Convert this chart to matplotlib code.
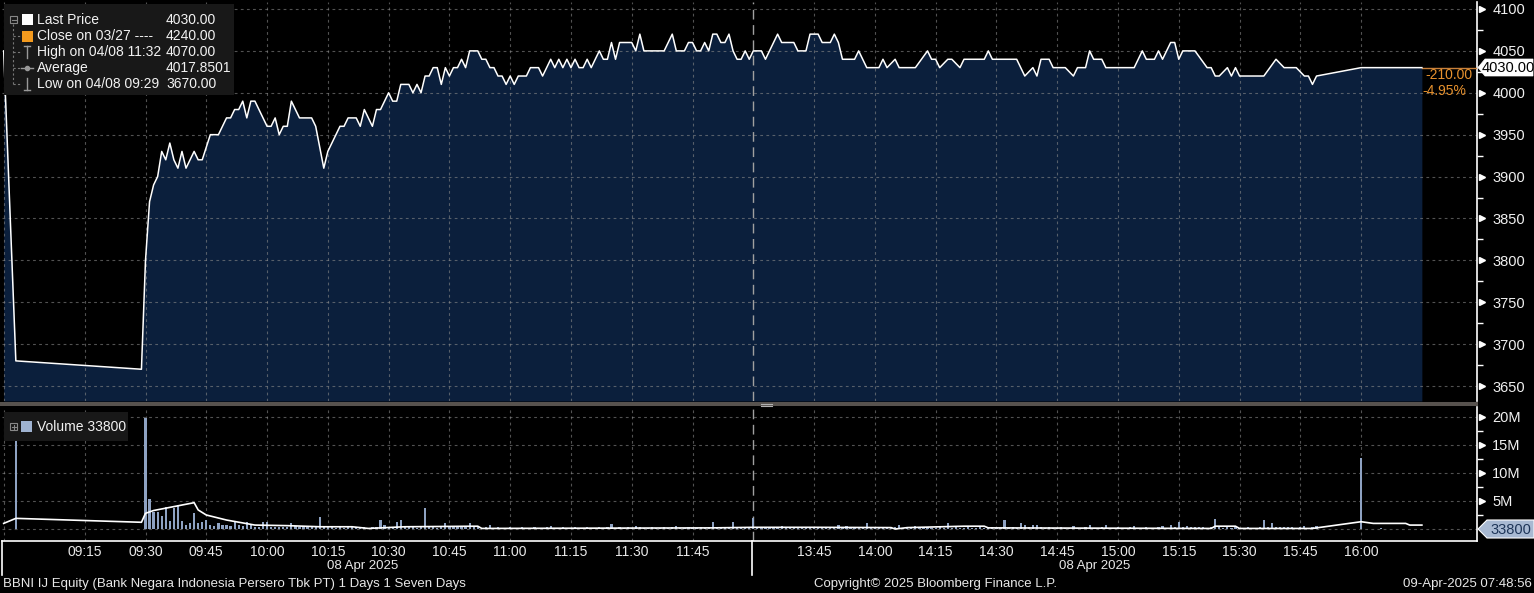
"""BBNI IJ intraday price + volume, Bloomberg-style dark chart."""

import matplotlib
matplotlib.use("Agg")
import matplotlib.pyplot as plt
import matplotlib.transforms as mtrans
from matplotlib.patches import Rectangle, Polygon
from matplotlib.lines import Line2D

plt.rcParams["font.family"] = ["Liberation Sans Narrow", "Liberation Sans", "DejaVu Sans"]

W, H = 1534, 593

# price vertices (clock time, price)
PRICE_TIMES = [
    "08:55", "08:58", "09:29", "09:30", "09:31", "09:32", "09:33", "09:34", "09:35", "09:36",
    "09:37", "09:38", "09:39", "09:40", "09:42", "09:43", "09:44", "09:46", "09:48", "09:50",
    "09:51", "09:52", "09:53", "09:54", "09:55", "09:56", "09:57", "10:00", "10:01", "10:02",
    "10:03", "10:04", "10:05", "10:06", "10:08", "10:11", "10:12", "10:14", "10:15", "10:17",
    "10:18", "10:19", "10:20", "10:22", "10:23", "10:24", "10:26", "10:27", "10:28", "10:30",
    "10:31", "10:32", "10:33", "10:35", "10:36", "10:37", "10:38", "10:39", "10:40", "10:41",
    "10:42", "10:43", "10:44", "10:45", "10:46", "10:47", "10:48", "10:49", "10:50", "10:52",
    "10:53", "10:54", "10:55", "10:56", "10:57", "10:58", "10:59", "11:00", "11:01", "11:02",
    "11:04", "11:05", "11:07", "11:08", "11:10", "11:11", "11:12", "11:13", "11:14", "11:15",
    "11:16", "11:17", "11:18", "11:19", "11:20", "11:22", "11:23", "11:24", "11:25", "11:26",
    "11:27", "11:30", "11:31", "11:32", "11:33", "11:38", "11:40", "11:41", "11:43", "11:44",
    "11:45", "11:46", "11:47", "11:48", "11:49", "11:50", "11:51", "11:52", "11:53", "11:54",
    "11:55", "11:56", "11:57", "11:58", "11:59", "12:00",
    "13:32", "13:33", "13:36", "13:37", "13:40", "13:41", "13:43", "13:44", "13:46", "13:47",
    "13:49", "13:50", "13:51", "13:52", "13:55", "13:56", "13:58", "14:01", "14:02", "14:03",
    "14:05", "14:06", "14:10", "14:13", "14:14", "14:15", "14:16", "14:18", "14:19", "14:21",
    "14:22", "14:27", "14:28", "14:29", "14:35", "14:37", "14:39", "14:40", "14:41", "14:43",
    "14:44", "14:47", "14:49", "14:50", "14:52", "14:53", "14:54", "14:56", "14:57", "15:04",
    "15:06", "15:07", "15:09", "15:10", "15:11", "15:13", "15:14", "15:15", "15:16", "15:19",
    "15:22", "15:23", "15:24", "15:25", "15:27", "15:28", "15:29", "15:30", "15:36", "15:39",
    "15:41", "15:44", "15:46", "15:47", "15:48", "15:49", "16:00", "16:15",
]
PRICE_VALUES = [
    4050, 3680, 3670, 3800, 3870, 3890, 3900, 3930, 3920, 3940,
    3920, 3910, 3930, 3910, 3930, 3920, 3920, 3950, 3950, 3970,
    3970, 3980, 3980, 3990, 3970, 3990, 3990, 3960, 3960, 3970,
    3950, 3960, 3960, 3990, 3970, 3970, 3960, 3910, 3930, 3950,
    3960, 3960, 3970, 3970, 3960, 3980, 3960, 3980, 3980, 4000,
    3990, 3990, 4010, 4010, 4000, 4010, 4000, 4020, 4020, 4030,
    4030, 4010, 4030, 4020, 4030, 4030, 4040, 4030, 4050, 4050,
    4040, 4040, 4030, 4030, 4020, 4020, 4010, 4020, 4010, 4020,
    4020, 4030, 4030, 4020, 4040, 4030, 4040, 4030, 4040, 4030,
    4040, 4030, 4030, 4040, 4030, 4050, 4040, 4040, 4060, 4040,
    4060, 4060, 4050, 4070, 4050, 4050, 4070, 4050, 4050, 4060,
    4060, 4050, 4050, 4060, 4050, 4070, 4070, 4060, 4060, 4070,
    4050, 4040, 4040, 4050, 4040, 4050,
    4050, 4040, 4070, 4060, 4060, 4050, 4050, 4070, 4070, 4060,
    4060, 4070, 4060, 4040, 4040, 4050, 4030, 4030, 4040, 4030,
    4040, 4030, 4030, 4050, 4040, 4040, 4030, 4040, 4040, 4030,
    4040, 4040, 4050, 4040, 4040, 4020, 4030, 4020, 4040, 4040,
    4030, 4030, 4020, 4030, 4030, 4050, 4040, 4040, 4030, 4030,
    4050, 4040, 4040, 4050, 4040, 4060, 4060, 4040, 4050, 4050,
    4030, 4030, 4020, 4020, 4030, 4020, 4030, 4020, 4020, 4040,
    4030, 4030, 4020, 4020, 4010, 4020, 4030, 4030,
]

# per-minute volume (millions), morning 09:30-12:00 and afternoon 13:31-15:49
VOL_AM_START = "09:30"
VOL_AM = [
    19.8, 5.4, 3.1, 3.1, 2.3, 3.9, 1.5, 3.7, 4.3, 1.5, 0.8, 1.0, 2.9, 1.0, 1.3, 1.6,
    0.7, 0.5, 1.0, 0.7, 0.7, 0.5, 1.5, 0.7, 0.5, 1.3, 0.9, 0.4, 0.4, 1.3, 1.3, 0.4,
    0.4, 0.4, 0.3, 0.4, 1.0, 0.5, 0.3, 0.3, 0.3, 0.3, 0.5, 2.2, 0.6, 0.3, 0.3, 0.2,
    0.3, 0.2, 0.3, 0.3, 0.4, 0.2, 0.3, 0.2, 0.4, 0.3, 1.6, 0.8, 0.3, 0.4, 1.2, 1.6,
    0.3, 0.5, 0.3, 0.2, 0.4, 3.7, 0.3, 0.4, 0.2, 0.3, 1.0, 0.4, 0.3, 0.5, 0.3, 0.4,
    1.1, 0.3, 0.4, 0.2, 0.3, 0.7, 0.2, 0.3, 0.2, 0.2, 0.3, 0.2, 0.2, 0.3, 0.2, 0.2,
    0.3, 0.2, 0.2, 0.3, 0.5, 0.2, 0.2, 0.3, 0.2, 0.2, 0.3, 0.2, 0.2, 0.3, 0.2, 0.2,
    0.3, 0.2, 0.3, 0.9, 0.2, 0.3, 0.2, 0.3, 0.2, 0.5, 0.3, 0.2, 0.2, 0.3, 0.2, 0.2,
    0.3, 0.2, 0.3, 0.5, 0.2, 0.2, 0.3, 0.2, 0.2, 0.3, 0.2, 0.3, 1.2, 0.2, 0.3, 0.2,
    0.3, 1.2, 0.2, 0.3, 0.2, 0.3, 2.0,
]
VOL_PM_START = "13:31"
VOL_PM = [
    0.3, 0.2, 0.3, 0.2, 0.2, 0.3, 0.5, 0.2, 0.2, 0.3, 0.2, 0.2, 0.3, 0.2, 0.2, 0.3,
    0.2, 0.2, 0.3, 0.2, 0.8, 0.2, 0.5, 0.2, 0.3, 0.2, 0.3, 1.0, 0.3, 0.2, 0.2, 0.3,
    0.2, 0.2, 0.3, 0.7, 0.2, 0.2, 0.3, 0.5, 0.2, 0.2, 0.3, 0.2, 0.2, 0.3, 0.2, 1.1,
    0.2, 0.3, 0.2, 0.2, 0.3, 0.2, 0.2, 0.3, 0.2, 0.2, 0.3, 0.2, 0.2, 1.6, 0.2, 0.3,
    0.2, 1.0, 0.7, 0.3, 0.7, 0.7, 0.3, 0.2, 0.3, 0.2, 0.2, 0.3, 0.2, 0.2, 0.5, 0.2,
    0.2, 0.3, 0.7, 0.2, 0.2, 0.3, 0.8, 0.2, 0.2, 0.3, 0.2, 0.2, 0.3, 0.5, 0.2, 0.2,
    0.3, 0.2, 0.2, 0.3, 0.5, 0.2, 0.7, 0.3, 1.3, 0.4, 0.5, 0.4, 0.3, 0.4, 0.3, 0.2,
    0.3, 1.8, 0.3, 0.2, 0.3, 0.2, 0.5, 0.2, 0.2, 0.3, 0.2, 0.2, 0.3, 1.6, 0.3, 1.1,
    0.3, 0.4, 0.3, 0.4, 0.3, 0.2, 0.3, 0.5, 0.2, 0.3, 0.5,
]
VOL_EXTRA_TIMES = ["08:58", "16:00", "16:05", "16:10", "16:15"]
VOL_EXTRA = [16.2, 12.6, 0.1, 0.05, 0.0338]

# volume average line (clock time, millions)
VOLAVG_TIMES = [
    "08:55", "08:58", "09:29", "09:30", "09:32", "09:37", "09:42", "09:43", "09:45", "09:50",
    "09:57", "10:05", "10:13", "10:21", "10:25", "10:34", "10:52", "10:53", "11:50", "12:00",
    "13:45", "14:04", "14:05", "14:08", "14:22", "14:27", "14:28", "15:23", "15:24", "15:29",
    "15:30", "15:48", "16:00", "16:03", "16:11", "16:12", "16:15",
]
VOLAVG_VALUES = [
    1.0, 1.9, 1.2, 2.8, 3.3, 4.0, 4.7, 3.4, 2.5, 1.6,
    0.7, 0.6, 0.4, 0.4, 0.1, 0.4, 0.5, 0.1, 0.2, 0.3,
    0.3, 0.25, 0.0, 0.25, 0.5, 0.5, 0.2, 0.1, 0.5, 0.5,
    0.1, 0.1, 1.3, 1.0, 1.0, 0.7, 0.7,
]

TICK_LABELS = ["09:15", "09:30", "09:45", "10:00", "10:15", "10:30", "10:45", "11:00",
               "11:15", "11:30", "11:45", "13:45", "14:00", "14:15", "14:30", "14:45",
               "15:00", "15:15", "15:30", "15:45", "16:00"]
PRICE_TICKS = [3650, 3700, 3750, 3800, 3850, 3900, 3950, 4000, 4050, 4100]
VOL_TICKS = [5, 10, 15, 20]
VOL_TICK_LABELS = ["5M", "10M", "15M", "20M"]


def tmin(s):
    # minutes from 09:00 on a session axis with the 12:00-13:30 break removed
    h, m = map(int, s.split(":"))
    t = h * 60 + m - 540
    return t - 90 if t >= 270 else t


def minutes_from(start, n):
    t0 = tmin(start)
    return [t0 + i for i in range(n)]


px_per_min = 4.052
x0 = 30 + (2 - 145.5) / px_per_min
x1 = 30 + (1477 - 145.5) / px_per_min

fig = plt.figure(figsize=(W / 100, H / 100), dpi=100, facecolor="black")
pix = mtrans.Affine2D().scale(1 / W, -1 / H).translate(0, 1) + fig.transFigure

ax_p = fig.add_axes([2 / W, 1 - 401 / H, 1475 / W, 399 / H], facecolor="black")
ax_v = fig.add_axes([2 / W, 1 - 541 / H, 1475 / W, 134 / H], facecolor="black")

grid_kw = dict(color="#8a8a8a", alpha=0.6, lw=0.8, ls=(0, (2.5, 3)), zorder=2)
tick_x = [tmin(t) for t in TICK_LABELS]

# ---- price panel
px_t = [tmin(t) for t in PRICE_TIMES]
p_lo, p_hi = 3650 - 15 / 0.8378, 4100 + 7 / 0.8378
ax_p.fill_between(px_t, PRICE_VALUES, p_lo, color="#0b1f3c", lw=0, zorder=1)
ax_p.plot(px_t, PRICE_VALUES, color="white", lw=1.1, zorder=4)
ax_p.plot([px_t[-1], x1], [PRICE_VALUES[-1]] * 2, color="#c8803a", lw=1, zorder=3)
ax_p.set_ylim(p_lo, p_hi)
for v in PRICE_TICKS:
    ax_p.axhline(v, **grid_kw)
ax_p.set_yticks(PRICE_TICKS)
ax_p.set_yticks([v + 25 for v in PRICE_TICKS[:-1]], minor=True)

# ---- volume panel
v_t = minutes_from(VOL_AM_START, len(VOL_AM)) + minutes_from(VOL_PM_START, len(VOL_PM)) \
    + [tmin(t) for t in VOL_EXTRA_TIMES]
v_val = VOL_AM + VOL_PM + VOL_EXTRA
ax_v.bar(v_t, v_val, width=0.55, color="#8ea2c2", lw=0, zorder=3)
ax_v.plot([tmin(t) for t in VOLAVG_TIMES], VOLAVG_VALUES, color="white", lw=1.2, zorder=4)
ax_v.set_ylim(-12 / 5.6, 122 / 5.6)
for v in [0] + VOL_TICKS:
    ax_v.axhline(v, **grid_kw)
ax_v.set_yticks(VOL_TICKS)
ax_v.set_yticklabels(VOL_TICK_LABELS)
ax_v.set_yticks([2.5, 7.5, 12.5, 17.5], minor=True)

for ax in (ax_p, ax_v):
    ax.set_xlim(x0, x1)
    for x in tick_x:
        ax.axvline(x, **grid_kw)
    ax.axvline(x0 + 0.4, **grid_kw)
    ax.axvline(180, color="#a0a0a0", lw=1, ls=(0, (7, 4)), zorder=2)
    ax.yaxis.tick_right()
    ax.tick_params(axis="y", which="major", length=0, pad=11, labelsize=10.5, labelcolor="#f0f0f0")
    ax.tick_params(axis="y", which="minor", length=4, width=1, color="white")
    for s in ("top", "left", "bottom"):
        ax.spines[s].set_visible(False)
    ax.spines["right"].set_color("white")
    ax.spines["right"].set_linewidth(1.2)
    tri = mtrans.blended_transform_factory(ax.transAxes, ax.transData)
    ticks = PRICE_TICKS if ax is ax_p else VOL_TICKS
    ax.plot([1.0035] * len(ticks), ticks, ls="none", marker=">", ms=5, color="white",
            transform=tri, clip_on=False)

ax_p.set_xticks([])
ax_v.spines["bottom"].set_visible(True)
ax_v.spines["bottom"].set_color("white")
ax_v.spines["bottom"].set_linewidth(1.2)
ax_v.set_xticks(tick_x)
ax_v.set_xticklabels(TICK_LABELS)
ax_v.tick_params(axis="x", length=0, pad=3, labelsize=10, labelcolor="#e8e8e8")

# panel separator and axis-band verticals
fig.add_artist(Rectangle((0, 402), 1478, 4, transform=pix, color="#57524e", lw=0))
fig.add_artist(Line2D([761, 772], [403.5, 403.5], transform=pix, color="#b0b0b0", lw=0.8))
fig.add_artist(Line2D([761, 772], [405.5, 405.5], transform=pix, color="#b0b0b0", lw=0.8))
for xv in (2, 752):
    fig.add_artist(Line2D([xv, xv], [541, 575], transform=pix, color="white", lw=1.2))

# price legend
txt = dict(transform=pix, color="#f2f2f2", fontsize=10, va="center")
fig.add_artist(Rectangle((4, 4), 230, 91, transform=pix, color="#181818", lw=0, zorder=5))
fig.add_artist(Line2D([13, 13], [24, 84], transform=pix, color="#777777", lw=0.8,
                      ls=(0, (2, 2)), zorder=6))
fig.add_artist(Rectangle((10, 16), 7, 7, transform=pix, fill=False, ec="#888888", lw=0.8, zorder=6))
fig.add_artist(Line2D([11.5, 15.5], [19.5, 19.5], transform=pix, color="#888888", lw=0.8, zorder=6))
fig.add_artist(Rectangle((22, 14), 11, 11, transform=pix, color="white", lw=0, zorder=6))
fig.add_artist(Rectangle((22, 31), 11, 11, transform=pix, color="#f39a1e", lw=0, zorder=6))
for yy in (36, 52, 68, 84):
    fig.add_artist(Line2D([13, 20], [yy, yy], transform=pix, color="#777777", lw=0.8,
                          ls=(0, (2, 2)), zorder=6))
fig.add_artist(Line2D([27, 27], [46, 58], transform=pix, color="#999999", lw=1, zorder=6))
fig.add_artist(Line2D([24, 30], [46, 46], transform=pix, color="#999999", lw=1, zorder=6))
fig.add_artist(Line2D([21, 33], [68, 68], transform=pix, color="#999999", lw=1, zorder=6))
fig.add_artist(Line2D([27], [68], transform=pix, color="#999999", marker="o", ms=3, zorder=6))
fig.add_artist(Line2D([27, 27], [78, 90], transform=pix, color="#999999", lw=1, zorder=6))
fig.add_artist(Line2D([24, 30], [90, 90], transform=pix, color="#999999", lw=1, zorder=6))
legend_rows = [("Last Price", "4030.00"), ("Close on 03/27 ----", "4240.00"),
               ("High on 04/08 11:32", "4070.00"), ("Average", "4017.8501"),
               ("Low on 04/08 09:29", "3670.00")]
for (name, val), yy in zip(legend_rows, (20, 36, 52, 68, 84)):
    fig.text(37, yy, name, zorder=7, **txt)
    fig.text(166, yy, val, zorder=7, **txt)

# volume legend
fig.add_artist(Rectangle((4, 412), 124, 29, transform=pix, color="#181818", lw=0, zorder=5))
fig.add_artist(Rectangle((10, 423), 7, 7, transform=pix, fill=False, ec="#888888", lw=0.8, zorder=6))
fig.add_artist(Line2D([11.5, 15.5], [426.5, 426.5], transform=pix, color="#888888", lw=0.8, zorder=6))
fig.add_artist(Line2D([13.5, 13.5], [424.5, 428.5], transform=pix, color="#888888", lw=0.8, zorder=6))
fig.add_artist(Rectangle((21, 421), 11, 11, transform=pix, color="#9fb3d1", lw=0, zorder=6))
fig.text(37, 427, "Volume 33800", zorder=7, **txt)

# right-hand tags
fig.add_artist(Polygon([(1478, 67.5), (1485, 59), (1533, 59), (1533, 76), (1485, 76)],
                       transform=pix, fc="white", ec="white", lw=0.5, zorder=6))
fig.text(1508, 68, "4030.00", transform=pix, color="black", fontsize=10.5, va="center",
         ha="center", zorder=7)
fig.text(1472, 75, "-210.00", transform=pix, color="#e8922e", fontsize=10, va="center", ha="right")
fig.text(1466, 91, "-4.95%", transform=pix, color="#e8922e", fontsize=10, va="center", ha="right")
fig.add_artist(Polygon([(1478, 529), (1487, 520), (1534, 520), (1534, 538), (1487, 538)],
                       transform=pix, fc="#a8b9d2", ec="white", lw=0.8, zorder=6))
fig.text(1511, 530, "33800", transform=pix, color="#1e3558", fontsize=10.5, va="center",
         ha="center", zorder=7)

# date labels and footer
foot = dict(transform=pix, color="#e8e8e8", fontsize=9.5, va="center")
fig.text(363, 566, "08 Apr 2025", ha="center", **foot)
fig.text(1095, 566, "08 Apr 2025", ha="center", **foot)
fig.text(3, 584, "BBNI IJ Equity (Bank Negara Indonesia Persero Tbk PT) 1 Days 1 Seven Days",
         ha="left", **foot)
fig.text(935, 584, "Copyright\u00a9 2025 Bloomberg Finance L.P.", ha="center", **foot)
fig.text(1532, 584, "09-Apr-2025 07:48:56", ha="right", **foot)

fig.savefig("out.png", dpi=100, facecolor="black")
